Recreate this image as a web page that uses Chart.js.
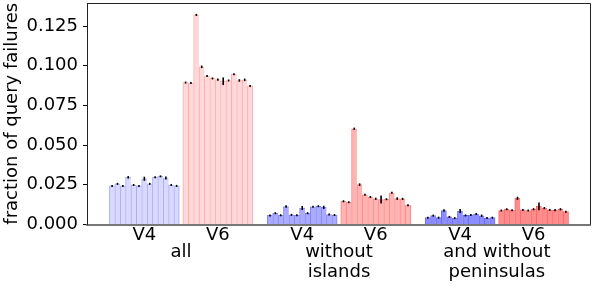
<!DOCTYPE html>
<html>
<head>
<meta charset="utf-8">
<script src="https://cdn.jsdelivr.net/npm/chart.js@4"></script>
<style>
  html, body { margin: 0; padding: 0; background: #fff; }
  #wrap { width: 598px; height: 289px; }
</style>
</head>
<body>
<div id="wrap"><canvas id="chart" width="598" height="289"></canvas></div>
<script>
/* ---------- data ---------- */
const groups = ['all', ['without', 'islands'], ['and without', 'peninsulas']];
const protocols = ['V4', 'V6'];
const yTickValues = [0, 0.025, 0.05, 0.075, 0.1, 0.125];

const v4All = [0.0243, 0.0256, 0.0243, 0.0297, 0.0249, 0.0243, 0.0288, 0.0256, 0.0297, 0.0303, 0.0293, 0.0249, 0.0243];
const v6All = [0.0894, 0.0891, 0.1320, 0.0993, 0.0935, 0.0920, 0.0913, 0.0902, 0.0907, 0.0946, 0.0907, 0.0911, 0.0873];
const v4NoIslands = [0.0057, 0.0071, 0.0058, 0.0113, 0.0061, 0.0058, 0.0104, 0.0071, 0.0112, 0.0115, 0.0108, 0.0063, 0.0060];
const v6NoIslands = [0.0146, 0.0140, 0.0603, 0.0251, 0.0187, 0.0173, 0.0162, 0.0157, 0.0159, 0.0200, 0.0163, 0.0161, 0.0121];
const v4NoPeninsulas = [0.0043, 0.0056, 0.0043, 0.0088, 0.0048, 0.0040, 0.0085, 0.0057, 0.0060, 0.0066, 0.0055, 0.0041, 0.0043];
const v6NoPeninsulas = [0.0088, 0.0096, 0.0090, 0.0165, 0.0092, 0.0088, 0.0096, 0.0114, 0.0103, 0.0092, 0.0090, 0.0096, 0.0081];

// error bar half-lengths
const v4AllErr = [0.0006, 0.0006, 0.0005, 0.0008, 0.0005, 0.0005, 0.0013, 0.0005, 0.0006, 0.0006, 0.0010, 0.0005, 0.0005];
const v6AllErr = [0.0006, 0.0006, 0.0006, 0.0008, 0.0006, 0.0006, 0.0007, 0.0024, 0.0006, 0.0006, 0.0008, 0.0008, 0.0006];
const v4NoIslandsErr = [0.0005, 0.0006, 0.0005, 0.0008, 0.0005, 0.0005, 0.0013, 0.0005, 0.0006, 0.0006, 0.0010, 0.0005, 0.0005];
const v6NoIslandsErr = [0.0006, 0.0006, 0.0007, 0.0008, 0.0006, 0.0006, 0.0007, 0.0025, 0.0006, 0.0006, 0.0008, 0.0007, 0.0006];
const v4NoPeninsulasErr = [0.0005, 0.0006, 0.0005, 0.0008, 0.0005, 0.0005, 0.0013, 0.0005, 0.0006, 0.0006, 0.0008, 0.0005, 0.0005];
const v6NoPeninsulasErr = [0.0006, 0.0006, 0.0006, 0.0010, 0.0006, 0.0006, 0.0007, 0.0024, 0.0007, 0.0006, 0.0007, 0.0007, 0.0006];

/* ---------- layout of the bars along x ---------- */
const SERIES_OFFSET = 0.2327;   // V4 / V6 distance from group centre
const BAR_STEP = 0.03405;       // one sub-bar
const barX = (g, p, j, n) => g + (p === 0 ? -SERIES_OFFSET : SERIES_OFFSET) + (j - (n - 1) / 2) * BAR_STEP;

const series = [
    { g: 0, p: 0, values: v4All, errors: v4AllErr, fill: '#d9d9ff', edge: '#a9abf0' },
    { g: 0, p: 1, values: v6All, errors: v6AllErr, fill: '#ffd9d9', edge: '#ffabab' },
    { g: 1, p: 0, values: v4NoIslands, errors: v4NoIslandsErr, fill: '#aaaaff', edge: '#8183f2' },
    { g: 1, p: 1, values: v6NoIslands, errors: v6NoIslandsErr, fill: '#ffb3b3', edge: '#ff8888' },
    { g: 2, p: 0, values: v4NoPeninsulas, errors: v4NoPeninsulasErr, fill: '#8c8cff', edge: '#6a6cf2' },
    { g: 2, p: 1, values: v6NoPeninsulas, errors: v6NoPeninsulasErr, fill: '#ff8c8c', edge: '#ff6666' }
];

const protoTicks = [];
const protoLabels = [];
groups.forEach((_, g) => protocols.forEach((p, i) => {
    protoTicks.push(g + (i === 0 ? -SERIES_OFFSET : SERIES_OFFSET));
    protoLabels.push(p);
}));

const FONT = { family: "'DejaVu Sans', sans-serif", size: 18, lineHeight: 1.1 };

/* ---------- plugins ---------- */
const errorBars = {
    id: 'errorBars',
    afterDatasetsDraw(chart) {
        const { ctx } = chart;
        const y = chart.scales.y;
        ctx.save();
        ctx.strokeStyle = '#000';
        ctx.lineWidth = 1.6;
        chart.data.datasets.forEach((ds, i) => {
            const meta = chart.getDatasetMeta(i);
            meta.data.forEach((bar, j) => {
                const v = ds.data[j].y;
                const e = ds.errors[j];
                let y0 = y.getPixelForValue(v + e);
                let y1 = y.getPixelForValue(v - e);
                if (y1 - y0 < 2) { const m = (y0 + y1) / 2; y0 = m - 1; y1 = m + 1; }
                ctx.beginPath();
                ctx.moveTo(bar.x, y0);
                ctx.lineTo(bar.x, y1);
                ctx.stroke();
            });
        });
        ctx.restore();
    }
};

const frame = {
    id: 'frame',
    afterDraw(chart) {
        const { ctx, chartArea: a } = chart;
        ctx.save();
        ctx.strokeStyle = '#222';
        ctx.lineWidth = 1;
        ctx.beginPath();
        ctx.moveTo(Math.round(a.left) + 0.5, Math.round(a.top) + 0.5);
        ctx.lineTo(Math.round(a.right) + 0.5, Math.round(a.top) + 0.5);
        ctx.lineTo(Math.round(a.right) + 0.5, a.bottom);
        ctx.stroke();
        ctx.restore();
    }
};

/* ---------- chart ---------- */
new Chart(document.getElementById('chart'), {
    type: 'bar',
    data: {
        datasets: series.map((s) => ({
            data: s.values.map((v, j) => ({ x: barX(s.g, s.p, j, s.values.length), y: v })),
            errors: s.errors,
            backgroundColor: s.fill,
            borderColor: s.edge,
            borderWidth: (c) => ({ left: 1, top: 1, bottom: 0, right: c.dataIndex === s.values.length - 1 ? 1 : 0 }),
            borderSkipped: false,
            grouped: false,
            barPercentage: 1,
            categoryPercentage: 1
        }))
    },
    options: {
        responsive: false,
        animation: false,
        devicePixelRatio: 1,
        layout: { padding: { left: 0, right: 8, top: 3, bottom: 0 } },
        plugins: { legend: { display: false }, tooltip: { enabled: false } },
        scales: {
            x: {
                type: 'linear',
                offset: false,
                min: -0.596,
                max: 2.59,
                grid: { display: false, drawTicks: false },
                border: { display: true, color: '#777', width: 2 },
                afterBuildTicks: (axis) => { axis.ticks = protoTicks.map((v) => ({ value: v })); },
                afterFit: (scale) => { scale.height = 18; scale.paddingLeft = 0; scale.paddingRight = 0; },
                ticks: {
                    autoSkip: false,
                    maxRotation: 0,
                    padding: 1,
                    color: '#000',
                    font: FONT,
                    callback: (value, index) => protoLabels[index]
                }
            },
            xg: {
                type: 'linear',
                position: 'bottom',
                offset: false,
                min: -0.596,
                max: 2.59,
                grid: { display: false, drawTicks: false },
                border: { display: false },
                afterBuildTicks: (axis) => { axis.ticks = groups.map((_, g) => ({ value: g })); },
                afterFit: (scale) => { scale.height = 46.5; scale.paddingLeft = 0; scale.paddingRight = 0; },
                ticks: {
                    autoSkip: false,
                    maxRotation: 0,
                    padding: 0,
                    color: '#000',
                    font: FONT,
                    callback: (value, index) => groups[index]
                }
            },
            y: {
                min: 0,
                max: 0.1395,
                grid: { display: true, drawOnChartArea: false, drawTicks: true, tickLength: 4, color: '#000' },
                border: { display: true, color: '#222', width: 1 },
                afterBuildTicks: (axis) => { axis.ticks = yTickValues.map((v) => ({ value: v })); },
                afterFit: (scale) => { scale.width = 87; scale.paddingTop = 0; scale.paddingBottom = 0; },
                ticks: {
                    padding: 5,
                    color: '#000',
                    font: FONT,
                    callback: (v) => v.toFixed(3)
                },
                title: {
                    display: true,
                    text: 'fraction of query failures',
                    color: '#000',
                    font: FONT,
                    padding: { top: 2, bottom: 0 }
                }
            }
        }
    },
    plugins: [errorBars, frame]
});
</script>
</body>
</html>
